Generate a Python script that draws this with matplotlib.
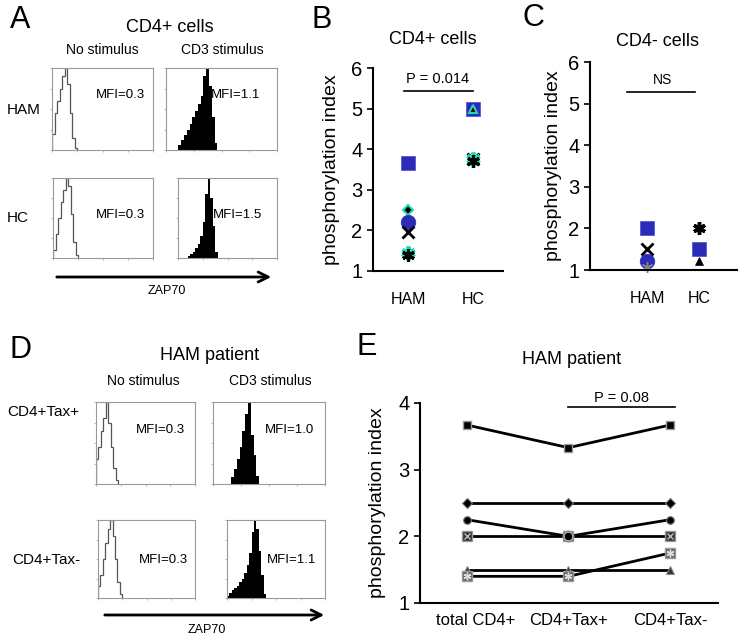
import numpy as np
import matplotlib
matplotlib.use("Agg")
import matplotlib.pyplot as plt
from matplotlib.transforms import ScaledTranslation

plt.rcParams['font.family'] = ['Liberation Sans', 'DejaVu Sans']

W, H = 744, 638
BLUE = '#2b2bb8'
CYAN = '#22d8b4'

# ---------------- data ----------------
# flow histograms: (first bin left edge in log decades, counts), bin width 0.1
a_ham_unstim = (0.0, [20, 45, 60, 75, 90, 100, 80, 45, 15, 3])
a_ham_cd3 = (0.45, [6, 12, 18, 24, 32, 40, 47, 56, 66, 90, 100, 78, 40, 8])
a_hc_unstim = (0.0, [10, 30, 50, 70, 85, 100, 90, 55, 20, 4])
a_hc_cd3 = (0.40, [3, 5, 7, 12, 18, 28, 45, 80, 100, 75, 40, 8])
a_mfi = ['MFI=0.3', 'MFI=1.1', 'MFI=0.3', 'MFI=1.5']

d_tp_unstim = (0.0, [30, 45, 65, 80, 100, 75, 45, 20, 5])
d_tp_cd3 = (0.65, [8, 18, 30, 45, 65, 85, 100, 60, 35, 10])
d_tn_unstim = (0.0, [15, 30, 50, 70, 88, 100, 80, 50, 20, 5])
d_tn_cd3 = (0.0, [3, 6, 10, 13, 16, 20, 25, 32, 42, 58, 85, 100, 88, 60, 30, 5])
d_mfi = ['MFI=0.3', 'MFI=1.0', 'MFI=0.3', 'MFI=1.1']

groups = ['HAM', 'HC']
b_ham = [3.65, 2.5, 2.2, 1.97, 1.4]
b_ham_kind = ['square', 'diamond', 'circle', 'x', 'star']
b_hc = [5.0, 5.0, 3.75, 3.72]
b_hc_kind = ['square', 'triangle', 'x', 'star']

c_ham = [2.0, 1.5, 1.22, 1.08]
c_ham_kind = ['square', 'x', 'circle', 'dots']
c_hc = [2.0, 1.5, 1.22]
c_hc_kind = ['blackstar', 'square', 'smalltri']

e_cats = ['total CD4+', 'CD4+Tax+', 'CD4+Tax-']
e_square = [3.67, 3.33, 3.67]
e_diamond = [2.5, 2.5, 2.5]
e_circle = [2.25, 2.0, 2.25]
e_boxx = [2.0, 2.0, 2.0]
e_triangle = [1.5, 1.5, 1.5]
e_boxstar = [1.4, 1.4, 1.75]

fig = plt.figure(figsize=(W / 100, H / 100), dpi=100)


def px(x0, y0, x1, y1):
    return [x0 / W, 1 - y1 / H, (x1 - x0) / W, (y1 - y0) / H]


def ftext(x, y, s, size, **kw):
    kw.setdefault('ha', 'center')
    kw.setdefault('va', 'center')
    fig.text(x / W, 1 - y / H, s, fontsize=size, **kw)


def histbox(rect, hist, filled):
    ax = fig.add_axes(px(*rect))
    start, counts = hist
    edges = np.round(start + 0.1 * np.arange(len(counts) + 1), 3)
    if filled:
        ax.stairs(counts, edges, fill=True, color='black')
    else:
        ax.stairs(counts, edges, color='#555555', lw=0.9)
    ax.set_xlim(0, 4)
    ax.set_ylim(0, 100)
    ax.set_xticks([0, 1, 2, 3, 4])
    ax.set_yticks([0, 25, 50, 75, 100])
    ax.tick_params(length=1.5, width=0.5, colors='#999999', labelleft=False, labelbottom=False)
    for s in ax.spines.values():
        s.set_color('#9a9a9a')
        s.set_linewidth(0.8)
    return ax


def arrow(x0, x1, y):
    fig.add_artist(matplotlib.patches.FancyArrowPatch(
        (x0 / W, 1 - y / H), (x1 / W, 1 - y / H), transform=fig.transFigure,
        arrowstyle='->', mutation_scale=18, lw=2, color='black'))


# ---------------- panel A ----------------
ftext(10, 20, 'A', 22, ha='left')
ftext(170, 27, 'CD4+ cells', 13)
ftext(102, 50, 'No stimulus', 10)
ftext(222, 50, 'CD3 stimulus', 10)
ftext(7, 110, 'HAM', 11, ha='left')
ftext(7, 218, 'HC', 11, ha='left')
histbox((52, 68, 153, 150), a_ham_unstim, False)
histbox((166, 68, 277, 150), a_ham_cd3, True)
histbox((53, 178, 153, 258), a_hc_unstim, False)
histbox((178, 178, 277, 258), a_hc_cd3, True)
ftext(120, 95, a_mfi[0], 9.5)
ftext(236, 95, a_mfi[1], 9.5)
ftext(120, 215, a_mfi[2], 9.5)
ftext(238, 215, a_mfi[3], 9.5)
arrow(54, 274, 277)
ftext(167, 291, 'ZAP70', 9)

# ---------------- scatter panels ----------------
STYLE = {
    'square': dict(marker='s', ms=9.5, mfc=BLUE, mec='#4a4ad0', mew=0.5),
    'circle': dict(marker='o', ms=10.5, mfc=BLUE, mec=BLUE, mew=0.5),
    'diamond': dict(marker='D', ms=5.5, mfc='black', mec=CYAN, mew=1.5),
    'x': dict(marker='x', ms=9, mfc='black', mec='black', mew=2),
    'star': dict(marker=(6, 2, 0), ms=9, mfc='black', mec='black', mew=2.2),
    'blackstar': dict(marker=(6, 2, 0), ms=9, mfc='black', mec='black', mew=2.5),
    'triangle': dict(marker='^', ms=6, mfc='black', mec=CYAN, mew=1.5),
    'smalltri': dict(marker='^', ms=6, mfc='black', mec='black', mew=0.5),
    'dots': dict(marker=(6, 2, 0), ms=8, mfc='none', mec='#888888', mew=1),
}


def draw_points(ax, xpos, vals, kinds, cyan_under_x=False):
    for v, k in zip(vals, kinds):
        st = STYLE[k]
        if k == 'star':
            ax.plot(xpos, v + 0.04, marker=(6, 2, 0), ms=10, mec=CYAN, mew=3, ls='none', clip_on=False)
        if k == 'x' and cyan_under_x:
            ax.plot(xpos, v - 0.03, marker=(6, 2, 0), ms=9, mec=CYAN, mew=2.5, ls='none', clip_on=False)
        ax.plot(xpos, v, ls='none', clip_on=False, **st)


def style_axes(ax):
    for s in ['top', 'right']:
        ax.spines[s].set_visible(False)
    for s in ['left', 'bottom']:
        ax.spines[s].set_linewidth(1.5)
    ax.tick_params(axis='y', labelsize=14.5, length=4, width=1.2)
    ax.tick_params(axis='x', length=0)


# panel B
ftext(322, 20, 'B', 22)
ftext(433, 40, 'CD4+ cells', 13)
axb = fig.add_axes(px(373, 68, 503, 271))
style_axes(axb)
axb.set_ylim(1, 6)
axb.set_xlim(-0.54, 1.46)
axb.set_yticks([1, 2, 3, 4, 5, 6])
axb.set_xticks([0, 1])
axb.set_xticklabels(groups, fontsize=11.5)
axb.tick_params(axis='x', pad=15)
draw_points(axb, 0, b_ham, b_ham_kind)
draw_points(axb, 1, b_hc, b_hc_kind, cyan_under_x=True)
axb.plot([-0.06, 1.0], [5.43, 5.43], color='black', lw=1.2, clip_on=False)
ftext(438, 79, 'P = 0.014', 10.5)
ftext(332, 170, 'phosphorylation index', 14, rotation=90)

# panel C
ftext(533, 18, 'C', 22)
ftext(657, 42, 'CD4- cells', 13)
axc = fig.add_axes(px(590, 62, 737, 270))
style_axes(axc)
axc.set_ylim(1, 6)
axc.set_xlim(-1.10, 1.73)
axc.set_yticks([1, 2, 3, 4, 5, 6])
axc.set_xticks([0, 1])
axc.set_xticklabels(groups, fontsize=11.5)
axc.tick_params(axis='x', pad=15)
draw_points(axc, 0, c_ham, c_ham_kind)
draw_points(axc, 1, c_hc, c_hc_kind)
axc.plot([-0.38, 0.92], [5.28, 5.28], color='black', lw=1.2, clip_on=False)
ftext(662, 80, 'NS', 10)
ftext(553, 166, 'phosphorylation index', 14, rotation=90)

# ---------------- panel D ----------------
ftext(10, 350, 'D', 22, ha='left')
ftext(210, 356, 'HAM patient', 13)
ftext(143, 381, 'No stimulus', 10)
ftext(270, 381, 'CD3 stimulus', 10)
ftext(7, 412, 'CD4+Tax+', 11, ha='left')
ftext(12, 560, 'CD4+Tax-', 11, ha='left')
histbox((96, 402, 195, 484), d_tp_unstim, False)
histbox((213, 402, 325, 484), d_tp_cd3, True)
histbox((98, 520, 195, 598), d_tn_unstim, False)
histbox((227, 520, 325, 598), d_tn_cd3, True)
ftext(160, 430, d_mfi[0], 9.5)
ftext(289, 430, d_mfi[1], 9.5)
ftext(163, 560, d_mfi[2], 9.5)
ftext(292, 560, d_mfi[3], 9.5)
arrow(102, 327, 615)
ftext(207, 630, 'ZAP70', 9)

# ---------------- panel E ----------------
ftext(367, 347, 'E', 22)
ftext(572, 360, 'HAM patient', 13)
axe = fig.add_axes(px(420, 403, 718, 603))
style_axes(axe)
axe.set_ylim(1, 4)
axe.set_xlim(-0.46, 2.47)
axe.set_yticks([1, 2, 3, 4])
axe.set_xticks([0, 1, 2])
axe.set_xticklabels(e_cats, fontsize=12)
axe.tick_params(axis='x', pad=7)
first = axe.get_xticklabels()[0]
first.set_transform(first.get_transform() + ScaledTranslation(9 / 100, 0, fig.dpi_scale_trans))
xs = np.arange(len(e_cats))
lk = dict(color='black', lw=2, clip_on=False)
axe.plot(xs, e_square, marker='s', ms=6, mfc='black', mec='#999999', mew=1, **lk)
axe.plot(xs, e_diamond, marker='D', ms=5, mfc='black', mec='#777777', mew=0.8, **lk)
axe.plot(xs, e_circle, marker='o', ms=5.5, mfc='black', mec='#777777', mew=0.8, **lk)
axe.plot(xs, e_boxx, marker='s', ms=7, mfc='#333333', mec='#999999', mew=1, **lk)
axe.plot(xs, e_boxx, ls='none', marker='x', ms=5, mec='#bbbbbb', mew=1, clip_on=False)
axe.plot(xs[1], e_boxx[1], marker='o', ms=7.5, mfc='#dddddd', mec='#888888', mew=1, clip_on=False)
axe.plot(xs[1], e_circle[1], marker='o', ms=4.5, mfc='black', mec='black', clip_on=False)
axe.plot(xs, e_triangle, marker='^', ms=6, mfc='#333333', mec='#888888', mew=0.8, **lk)
axe.plot(xs, e_boxstar, marker='s', ms=7, mfc='#666666', mec='#999999', mew=1, **lk)
axe.plot(xs, e_boxstar, ls='none', marker=(6, 2, 0), ms=5.5, mec='#dddddd', mew=1, clip_on=False)
axe.plot([1.0, 2.05], [3.94, 3.94], color='black', lw=1.2, clip_on=False)
ftext(622, 398, 'P = 0.08', 10.5)
ftext(378, 503, 'phosphorylation index', 14, rotation=90)

fig.savefig('out.png', dpi=100)
